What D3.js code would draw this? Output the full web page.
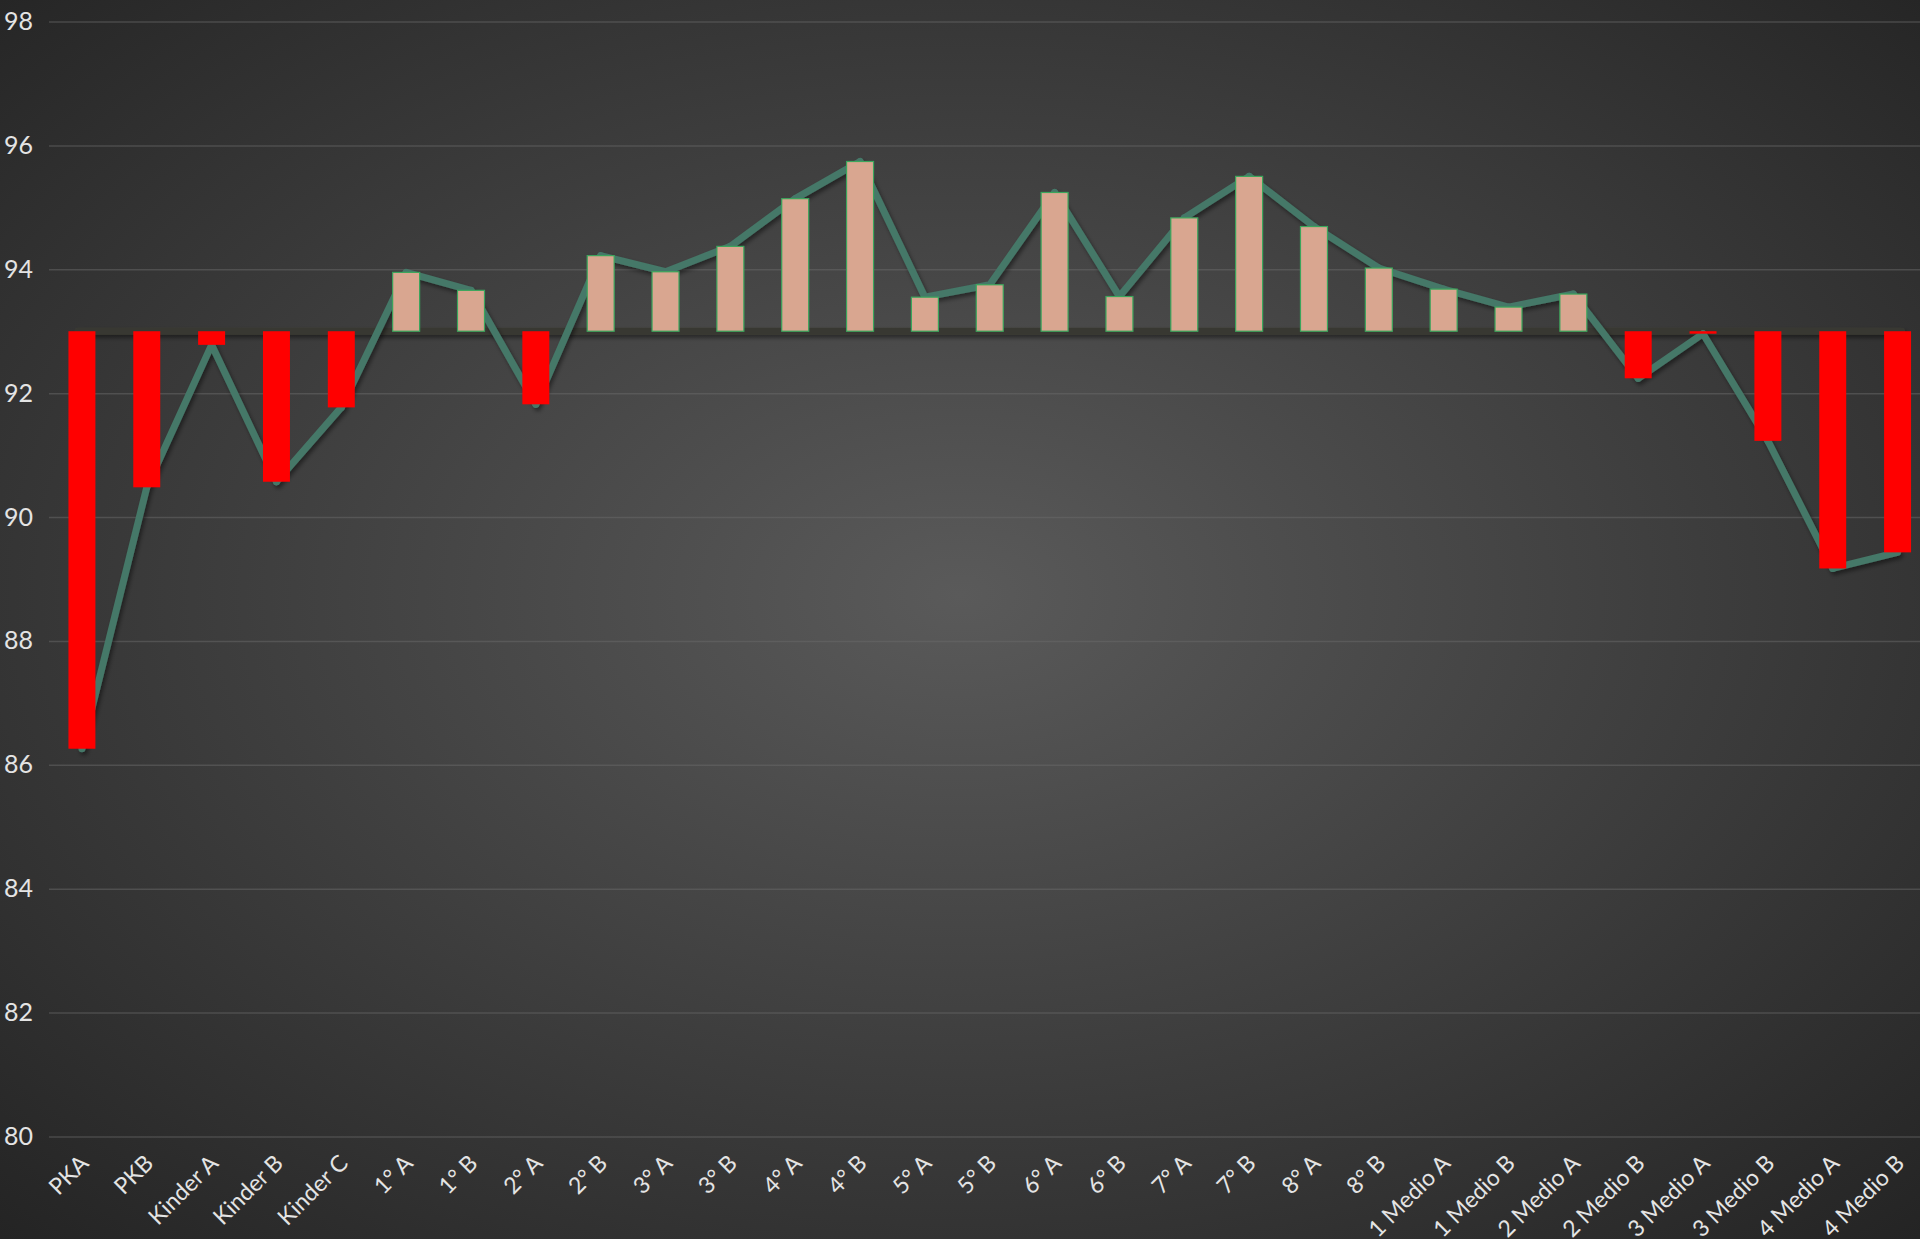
<!DOCTYPE html>
<html>
<head>
  <meta charset="utf-8">
  <title>Asistencia por curso</title>
  <style>
    html, body { margin: 0; padding: 0; background: #2b2b2b; }
    svg { display: block; }
    .tick text { font-family: Lato, "Open Sans", sans-serif; fill: #e4e4e4; }
  </style>
</head>
<body>
  <svg width="1920" height="1239"></svg>

  <script src="https://cdn.jsdelivr.net/npm/d3@7/dist/d3.min.js"></script>
  <script>
    // Cursos
    const categories = [
      "PKA", "PKB", "Kinder A", "Kinder B", "Kinder C",
      "1° A", "1° B", "2° A", "2° B", "3° A", "3° B", "4° A", "4° B",
      "5° A", "5° B", "6° A", "6° B", "7° A", "7° B", "8° A", "8° B",
      "1 Medio A", "1 Medio B", "2 Medio A", "2 Medio B",
      "3 Medio A", "3 Medio B", "4 Medio A", "4 Medio B"
    ];

    // Porcentaje de asistencia
    const values = [
      86.26, 90.48, 92.78, 90.57, 91.77,
      93.95, 93.66, 91.82, 94.22, 93.96, 94.37, 95.14, 95.74,
      93.55, 93.75, 95.24, 93.56, 94.83, 95.5, 94.69, 94.02,
      93.68, 93.39, 93.6, 92.24,
      92.96, 91.23, 89.17, 89.43
    ];

    // Meta (linea base)
    const target = 93;

    const yTicks = [80, 82, 84, 86, 88, 90, 92, 94, 96, 98];

    const width = 1920;
    const height = 1239;

    const svg = d3.select("svg");
    const defs = svg.append("defs");

    // Fondo con degradado radial
    const grad = defs.append("radialGradient")
      .attr("id", "bg")
      .attr("cx", "50%").attr("cy", "48%").attr("r", "72%");
    grad.append("stop").attr("offset", "0%").attr("stop-color", "#5a5a5a");
    grad.append("stop").attr("offset", "100%").attr("stop-color", "#242424");

    // sombra en coordenadas de usuario (la linea base no tiene alto)
    const shadow = defs.append("filter")
      .attr("id", "shadow")
      .attr("filterUnits", "userSpaceOnUse")
      .attr("x", 0).attr("y", 0).attr("width", width).attr("height", height);
    shadow.append("feDropShadow")
      .attr("dx", 2).attr("dy", 3).attr("stdDeviation", 2)
      .attr("flood-color", "#000").attr("flood-opacity", 0.45);

    svg.append("rect")
      .attr("width", width).attr("height", height)
      .attr("fill", "url(#bg)");

    // Escalas
    const x = d3.scaleBand()
      .domain(categories)
      .range([49.5, 1930])
      .paddingInner(0.584)
      .paddingOuter(0.292);

    const y = d3.scaleLinear()
      .domain([80, 98])
      .range([1136.5, 21.5]);

    const cx = d => x(d) + x.bandwidth() / 2;

    // Lineas de grilla y etiquetas del eje Y
    const yAxis = svg.append("g")
      .attr("transform", "translate(49,0)")
      .call(d3.axisLeft(y).tickValues(yTicks).tickSize(-1880).tickPadding(0)
        .tickFormat(d3.format("d")));
    yAxis.select(".domain").remove();
    yAxis.selectAll(".tick line")
      .attr("stroke", "#6a6a6a").attr("stroke-opacity", 0.5).attr("stroke-width", 1.5);
    yAxis.selectAll(".tick text")
      .attr("x", -45)
      .attr("text-anchor", "start")
      .attr("font-size", 25);

    // Etiquetas del eje X
    const xAxis = svg.append("g")
      .attr("transform", "translate(0,1136.5)")
      .call(d3.axisBottom(x).tickSize(0));
    xAxis.select(".domain").remove();
    xAxis.selectAll(".tick text")
      .attr("font-size", 23)
      .attr("text-anchor", "end")
      .attr("dy", 0)
      .attr("transform", "translate(6,26) rotate(-45)");

    // Linea base en la meta
    svg.append("line")
      .attr("x1", cx(categories[0]) - 4)
      .attr("x2", cx(categories[categories.length - 1]) + 4)
      .attr("y1", y(target)).attr("y2", y(target))
      .attr("stroke", "#393932")
      .attr("stroke-width", 7)
      .attr("stroke-linecap", "round")
      .attr("filter", "url(#shadow)");

    // Linea de asistencia
    const line = d3.line()
      .x((d, i) => cx(categories[i]))
      .y(d => y(d));

    const lineG = svg.append("g").attr("filter", "url(#shadow)");
    lineG.append("path")
      .datum(values)
      .attr("d", line)
      .attr("fill", "none")
      .attr("stroke", "#457868")
      .attr("stroke-width", 7)
      .attr("stroke-linejoin", "round");
    lineG.selectAll("circle")
      .data(values)
      .enter()
      .append("circle")
      .attr("cx", (d, i) => cx(categories[i]))
      .attr("cy", d => y(d))
      .attr("r", 3.5)
      .attr("fill", "#457868");

    // Barras de diferencia respecto a la meta
    svg.selectAll(".bar")
      .data(values)
      .enter()
      .append("rect")
      .attr("class", "bar")
      .attr("x", (d, i) => x(categories[i]))
      .attr("width", x.bandwidth())
      .attr("y", d => y(Math.max(d, target)))
      .attr("height", d => Math.abs(y(d) - y(target)))
      .attr("fill", d => d >= target ? "#d9a690" : "#ff0000")
      .attr("stroke", d => d >= target ? "#3aa65c" : "none")
      .attr("stroke-width", 1.2);
  </script>
</body>
</html>
